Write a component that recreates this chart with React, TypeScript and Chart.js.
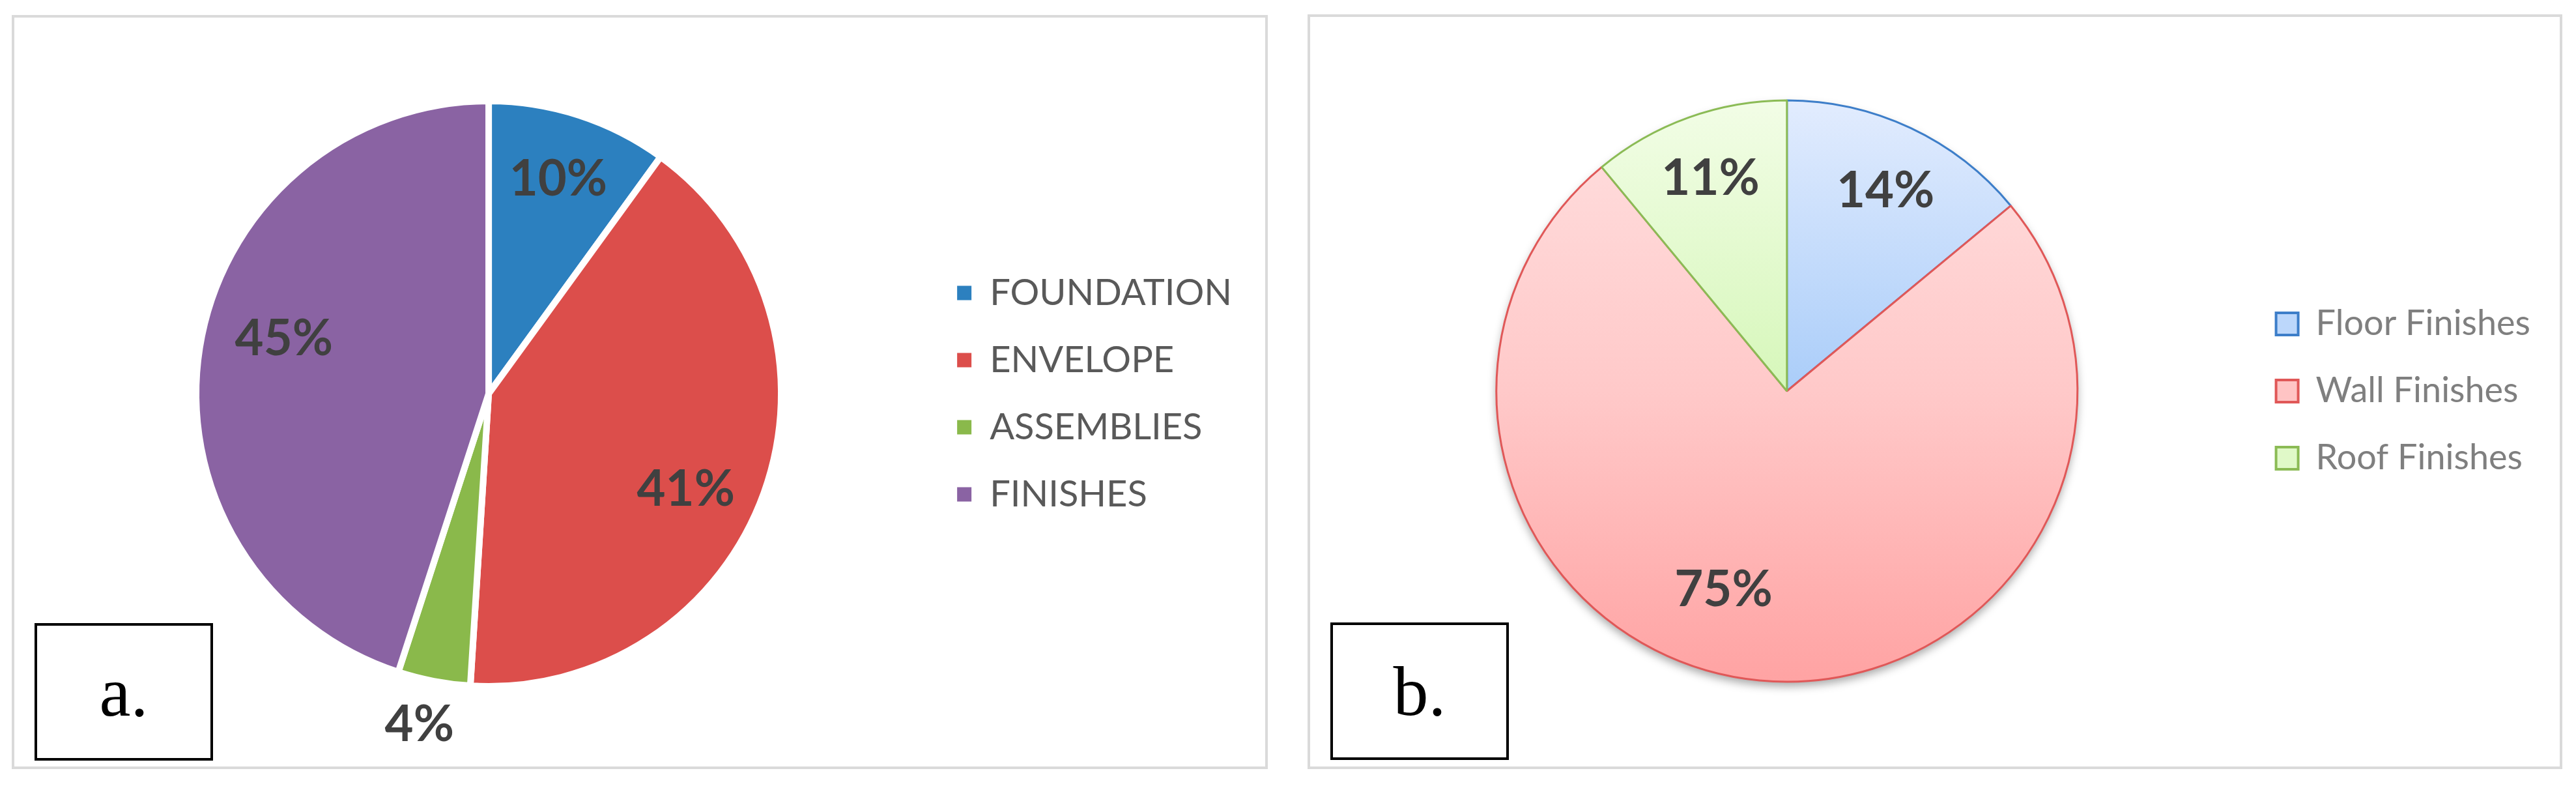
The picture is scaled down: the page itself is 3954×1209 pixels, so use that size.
import React, { useEffect, useRef } from "react";
import { Chart, registerables } from "chart.js";

Chart.register(...registerables);

// ---------- data ----------
const categoriesA = ["FOUNDATION", "ENVELOPE", "ASSEMBLIES", "FINISHES"];
const valuesA = [10, 41, 4, 45];
const categoriesB = ["Floor Finishes", "Wall Finishes", "Roof Finishes"];
const valuesB = [14, 75, 11];
const panelTags = ["a.", "b."];

// ---------- styles ----------
const colorsA = ["#2c80bf", "#dc4e4b", "#8ab94b", "#8a63a3"];
const gradB = [
  ["#e2ecfe", "#aacdf9", "#8cb9f2"],
  ["#ffdfdf", "#ffc9c9", "#ffa3a3"],
  ["#f2fde6", "#d6f7ba", "#c3f09a"],
];
const borderB = ["#3d7ec9", "#e05858", "#8bbb55"];
const legendFillB = ["#bcd7fb", "#ffc4c4", "#e0f9c8"];

const RADIUS_A = 449;
const RADIUS_B = 446;
const LABEL_FONT = "bold 76px Lato";

const pctLabels = {
  id: "pctLabels",
  afterDatasetsDraw(chart: any, _a: any, opts: any) {
    const { ctx } = chart;
    const meta = chart.getDatasetMeta(0);
    const data: number[] = chart.data.datasets[0].data;
    const total = data.reduce((s, v) => s + v, 0);
    meta.data.forEach((arc: any, i: number) => {
      const { x, y, startAngle, endAngle, outerRadius } = arc.getProps(
        ["x", "y", "startAngle", "endAngle", "outerRadius"],
        true
      );
      const mid = (startAngle + endAngle) / 2 + ((opts.angleShift[i] || 0) * Math.PI) / 180;
      const r = outerRadius * opts.radiusFrac[i];
      ctx.save();
      ctx.font = LABEL_FONT;
      ctx.fillStyle = "#404040";
      ctx.textAlign = "center";
      ctx.textBaseline = "middle";
      ctx.fillText(Math.round((data[i] / total) * 100) + "%", x + Math.cos(mid) * r, y + Math.sin(mid) * r);
      ctx.restore();
    });
  },
};

const pieShadow = {
  id: "pieShadow",
  beforeDatasetsDraw(chart: any, _a: any, opts: any) {
    if (!opts.enabled) return;
    const arc = chart.getDatasetMeta(0).data[0];
    if (!arc) return;
    const { ctx } = chart;
    ctx.save();
    ctx.shadowColor = "rgba(0,0,0,0.35)";
    ctx.shadowBlur = 14;
    ctx.shadowOffsetY = 7;
    ctx.fillStyle = "#ffffff";
    ctx.beginPath();
    ctx.arc(arc.x, arc.y, arc.outerRadius, 0, Math.PI * 2);
    ctx.fill();
    ctx.restore();
  },
};

function configA(): any {
  return {
    type: "pie",
    data: {
      labels: categoriesA,
      datasets: [
        {
          data: valuesA,
          backgroundColor: colorsA,
          borderColor: "#ffffff",
          borderWidth: 10,
        },
      ],
    },
    plugins: [pctLabels],
    options: {
      animation: false,
      responsive: false,
      radius: RADIUS_A,
      layout: { padding: { left: 56, right: 41, top: 5, bottom: 0 } },
      plugins: {
        tooltip: { enabled: false },
        pctLabels: { radiusFrac: [0.77, 0.75, 1.158, 0.724], angleShift: [0, 6.2, 1, 5.8] },
        legend: {
          position: "right",
          labels: {
            boxWidth: 22,
            boxHeight: 22,
            padding: 47,
            color: "#595959",
            font: { family: "Lato", size: 56 },
            generateLabels: () =>
              categoriesA.map((t, i) => ({
                text: t,
                fillStyle: colorsA[i],
                strokeStyle: colorsA[i],
                lineWidth: 0,
                hidden: false,
                index: i,
                fontColor: "#595959",
              })),
          },
        },
      },
    },
  };
}

function configB(): any {
  return {
    type: "pie",
    data: {
      labels: categoriesB,
      datasets: [
        {
          data: valuesB,
          backgroundColor: (c: any) => {
            const chart = c.chart;
            const ca = chart.chartArea;
            const stops = gradB[c.dataIndex] || gradB[0];
            if (!ca) return stops[1];
            const cy = (ca.top + ca.bottom) / 2;
            const g = chart.ctx.createLinearGradient(0, cy - RADIUS_B, 0, cy + RADIUS_B);
            g.addColorStop(0, stops[0]);
            g.addColorStop(0.5, stops[1]);
            g.addColorStop(1, stops[2]);
            return g;
          },
          borderColor: borderB,
          borderWidth: 3,
        },
      ],
    },
    plugins: [pieShadow, pctLabels],
    options: {
      animation: false,
      responsive: false,
      radius: RADIUS_B,
      layout: { padding: { left: 30, right: 35, top: 0, bottom: 2 } },
      plugins: {
        tooltip: { enabled: false },
        pieShadow: { enabled: true },
        pctLabels: { radiusFrac: [0.766, 0.718, 0.776], angleShift: [1.1, 12.3, 0] },
        legend: {
          position: "right",
          labels: {
            boxWidth: 34,
            boxHeight: 34,
            padding: 49,
            color: "#7f7f7f",
            font: { family: "Lato", size: 54 },
            generateLabels: () =>
              categoriesB.map((t, i) => ({
                text: t,
                fillStyle: legendFillB[i],
                strokeStyle: borderB[i],
                lineWidth: 4,
                hidden: false,
                index: i,
                fontColor: "#7f7f7f",
              })),
          },
        },
      },
    },
  };
}

function ChartCanvas({ make, width, height }: { make: () => any; width: number; height: number }) {
  const ref = useRef<HTMLCanvasElement>(null);
  useEffect(() => {
    const chart = new Chart(ref.current as HTMLCanvasElement, make());
    return () => chart.destroy();
  }, []);
  return (
    <canvas
      ref={ref}
      width={width}
      height={height}
      style={{ position: "absolute", left: 0, top: 0, width, height }}
    />
  );
}

function Panel({
  left,
  top,
  width,
  height,
  make,
  tag,
  tagLeft,
  tagTop,
}: {
  left: number;
  top: number;
  width: number;
  height: number;
  make: () => any;
  tag: string;
  tagLeft: number;
  tagTop: number;
}) {
  const bw = 4;
  return (
    <div
      style={{
        position: "absolute",
        left,
        top,
        width,
        height,
        boxSizing: "border-box",
        border: `${bw}px solid #dadada`,
        background: "#ffffff",
      }}
    >
      <ChartCanvas make={make} width={width - 2 * bw} height={height - 2 * bw} />
      <div
        style={{
          position: "absolute",
          left: tagLeft,
          top: tagTop,
          width: 274,
          height: 211,
          boxSizing: "border-box",
          border: "4px solid #000000",
          background: "#ffffff",
          display: "flex",
          alignItems: "center",
          justifyContent: "center",
          fontFamily: "'Liberation Serif', 'Times New Roman', serif",
          fontSize: 108,
          color: "#000000",
        }}
      >
        {tag}
      </div>
    </div>
  );
}

export default function App() {
  return (
    <div
      style={{
        position: "absolute",
        left: 0,
        top: 0,
        width: 3954,
        height: 1209,
        background: "#ffffff",
        overflow: "hidden",
      }}
    >
      <Panel left={18} top={23} width={1928} height={1157} make={configA} tag={panelTags[0]} tagLeft={31} tagTop={929} />
      <Panel left={2007} top={22} width={1926} height={1158} make={configB} tag={panelTags[1]} tagLeft={31} tagTop={929} />
    </div>
  );
}
